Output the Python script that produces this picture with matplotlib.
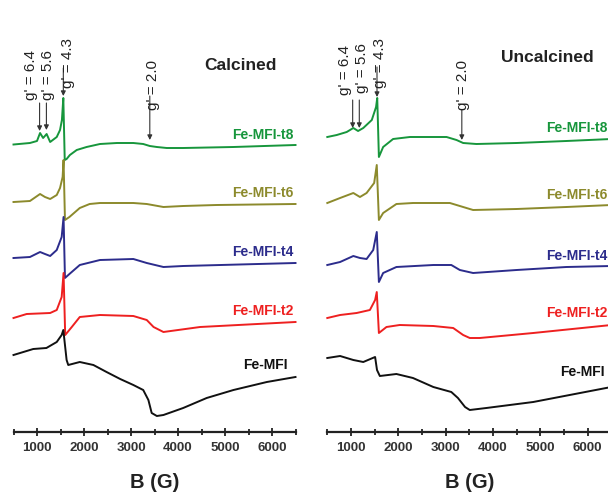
import matplotlib
matplotlib.use("Agg")
import matplotlib.pyplot as plt
from matplotlib.ticker import MultipleLocator

plt.rcParams['font.family'] = ['Liberation Sans', 'DejaVu Sans']

# ---------------- data: field (G) and stacked EPR signal (a.u.) ----------------
# Calcined samples
cal_t8_B = [500, 850, 1000, 1065, 1130, 1205, 1280, 1420, 1490, 1530, 1560, 1590, 1630,
            1700, 1845, 2055, 2340, 2700, 3050, 3260, 3400, 3550, 3760, 4110, 5180, 6500]
cal_t8_I = [287.5, 289, 291, 299, 294, 298, 290, 295, 302, 312, 334, 272, 273,
            277, 282, 285, 288, 289, 289, 288, 286, 285, 284, 284, 285, 287]

cal_t6_B = [500, 850, 1065, 1170, 1280, 1420, 1490, 1545, 1565, 1595, 1690, 1910, 2120,
            2340, 3050, 3335, 3690, 4110, 4820, 6500]
cal_t6_I = [230, 231, 238, 235, 233, 237, 244, 255, 272, 212, 215, 224, 228,
            229, 229, 228, 225, 226, 227, 228]

cal_t4_B = [500, 850, 1065, 1170, 1280, 1420, 1525, 1565, 1595, 1690, 1910, 2340,
            3050, 3335, 3690, 4110, 6500]
cal_t4_I = [174, 175, 180, 178, 176, 182, 195, 215, 154, 158, 167, 172,
            173, 169, 165, 166, 169]

cal_t2_B = [500, 780, 1280, 1420, 1525, 1565, 1600, 1740, 1910, 2340, 3050, 3335,
            3480, 3690, 4470, 6500]
cal_t2_I = [114, 118, 119, 122, 135, 159, 97, 105, 115, 117, 116, 112,
            105, 100, 105, 110]

cal_fe_B = [500, 710, 920, 1200, 1420, 1525, 1560, 1630, 1665, 1910, 2200, 2480, 2770,
            3050, 3260, 3370, 3440, 3550, 3690, 4110, 4610, 5180, 5890, 6500]
cal_fe_I = [77, 80, 83, 84, 90, 97, 102, 72, 67, 70, 67, 60, 53,
            47, 42, 32, 19, 16, 17, 24, 34, 42, 50, 55]

# Uncalcined samples
unc_t8_B = [500, 700, 910, 1050, 1150, 1260, 1440, 1530, 1555, 1590, 1680, 1890, 2245,
            3020, 3230, 3370, 3650, 4500, 5550, 6500]
unc_t8_I = [295, 297, 300, 304, 301, 304, 312, 325, 334, 275, 285, 293, 295,
            295, 292, 289, 288, 289, 291, 293]

unc_t6_B = [500, 770, 1050, 1190, 1330, 1490, 1545, 1590, 1680, 1960, 2310, 3090,
            3370, 3580, 4500, 5550, 6500]
unc_t6_I = [229, 234, 239, 235, 239, 249, 267, 212, 219, 228, 229, 229,
            225, 222, 223, 225, 227]

unc_t4_B = [500, 770, 1050, 1190, 1330, 1470, 1545, 1590, 1680, 1960, 2740, 3120,
            3300, 3580, 4500, 5550, 6500]
unc_t4_I = [167, 170, 176, 174, 173, 182, 200, 150, 159, 165, 167, 167,
            162, 159, 162, 165, 166]

unc_t2_B = [500, 770, 1120, 1400, 1510, 1545, 1590, 1750, 2030, 2740, 3160, 3370,
            3510, 3720, 4850, 6500]
unc_t2_I = [114, 117, 119, 122, 132, 140, 99, 105, 107, 106, 104, 97,
            94, 94, 99, 107]

unc_fe_B = [500, 770, 1050, 1260, 1510, 1550, 1610, 1960, 2310, 2740, 3120, 3260,
            3410, 3510, 3860, 4850, 6500]
unc_fe_I = [74, 76, 72, 70, 75, 62, 56, 58, 54, 45, 40, 34,
            25, 22, 24, 30, 45]

sample_names = ['Fe-MFI-t8', 'Fe-MFI-t6', 'Fe-MFI-t4', 'Fe-MFI-t2', 'Fe-MFI']
sample_colors = ['#17963c', '#8c8a2c', '#2c2c8c', '#ee2020', '#111111']
tick_values = [1000, 2000, 3000, 4000, 5000, 6000]

panels = [
    dict(title='Calcined', title_pos=(5320, 367),
         curves=[(cal_t8_B, cal_t8_I), (cal_t6_B, cal_t6_I), (cal_t4_B, cal_t4_I),
                 (cal_t2_B, cal_t2_I), (cal_fe_B, cal_fe_I)],
         label_pos=[(6450, 297), (6450, 239), (6450, 180), (6450, 121), (6340, 67)],
         # (g value, arrow field, arrow start, arrow tip, text centre field, text bottom)
         marks=[('6.4', 1055, 329, 301, 866, 332),
                ('5.6', 1200, 329, 302, 1240, 332),
                ('4.3', 1560, 364, 336, 1670, 344),
                ('2.0', 3400, 336, 292, 3470, 322)]),
    dict(title='Uncalcined', title_pos=(5157, 375),
         curves=[(unc_t8_B, unc_t8_I), (unc_t6_B, unc_t6_I), (unc_t4_B, unc_t4_I),
                 (unc_t2_B, unc_t2_I), (unc_fe_B, unc_fe_I)],
         label_pos=[(6420, 304), (6420, 237), (6420, 176), (6420, 119), (6360, 60)],
         marks=[('6.4', 1036, 332, 304, 873, 337),
                ('5.6', 1176, 332, 304, 1240, 339),
                ('4.3', 1550, 365, 335, 1612, 344),
                ('2.0', 3342, 322, 292, 3370, 322)]),
]

fig = plt.figure(figsize=(6.08, 4.92), dpi=100)
ax_rects = [[13.5 / 608, 60 / 492, 282 / 608, 432 / 492],
            [327.3 / 608, 60 / 492, 284 / 608, 432 / 492]]

for rect, p in zip(ax_rects, panels):
    ax = fig.add_axes(rect)
    ax.set_xlim(500, 6500)
    ax.set_ylim(0, 432)
    for s in ('top', 'left', 'right'):
        ax.spines[s].set_visible(False)
    ax.spines['bottom'].set_linewidth(1.6)
    ax.spines['bottom'].set_color('#222222')
    ax.set_yticks([])
    ax.xaxis.set_minor_locator(MultipleLocator(500))
    ax.set_xticks(tick_values)
    ax.set_xticklabels([str(v) for v in tick_values], fontweight='bold')
    ax.tick_params(axis='x', which='major', direction='inout', length=6, width=1.3,
                   color='#222222', pad=4, labelsize=9.5, labelcolor='#333333')
    ax.tick_params(axis='x', which='minor', direction='inout', length=4, width=1.3,
                   color='#222222')
    ax.set_xlabel('B (G)', fontsize=14.5, fontweight='bold', color='#222222', va='center')
    ax.xaxis.set_label_coords(0.5, -50 / 432)

    for (B, I), name, col, (lx, ly) in zip(p['curves'], sample_names, sample_colors,
                                           p['label_pos']):
        ax.plot(B, I, color=col, lw=1.4, solid_joinstyle='round', clip_on=False)
        ax.text(lx, ly, name, color=col, fontsize=10, fontweight='bold',
                ha='right', va='center', clip_on=False)

    ax.text(p['title_pos'][0], p['title_pos'][1], p['title'], fontsize=12.5,
            fontweight='bold', color='#222222', ha='center', va='center')

    for g, bx, y0, y1, tx, ty in p['marks']:
        ax.annotate('', xy=(bx, y1), xytext=(bx, y0),
                    arrowprops=dict(arrowstyle='-|>', color='#333333', lw=0.8,
                                    mutation_scale=7, shrinkA=0, shrinkB=0))
        ax.text(tx, ty, "g' = " + g, rotation=90, fontsize=11, color='#222222',
                ha='center', va='bottom')

fig.savefig('out.png', dpi=100)
